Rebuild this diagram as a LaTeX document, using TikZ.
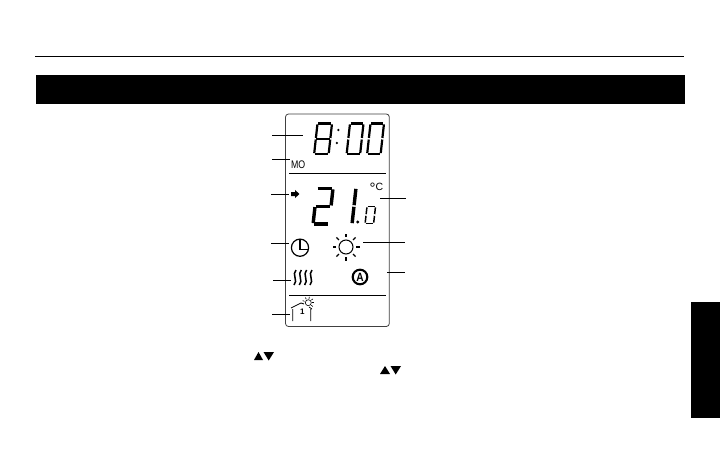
\documentclass[tikz,border=0pt]{standalone}
\usepackage{fontspec}
\usetikzlibrary{calc}
\setmainfont{Liberation Sans}
\tikzset{
  lead/.style={line width=0.9pt,black},
  panel/.style={draw=black!75,line width=0.8pt,rounded corners=3pt},
  rulel/.style={line width=1pt,black},
  seg/.style={line width=#1,black,line cap=butt},
  lab/.style={inner sep=0pt,black}
}
\newcommand{\digitseg}[6]{%
 \begin{scope}[shift={(#1,#2)},xslant=0.11]
  \foreach \s in {#6}{
   \ifnum\s=1 \draw[seg=#5] (0.6,0) -- (#3-0.6,0);\fi
   \ifnum\s=2 \draw[seg=#5] (#3,0.9) -- (#3,#4/2-0.8);\fi
   \ifnum\s=3 \draw[seg=#5] (#3,#4/2+0.8) -- (#3,#4-0.9);\fi
   \ifnum\s=4 \draw[seg=#5] (0.6,#4) -- (#3-0.6,#4);\fi
   \ifnum\s=5 \draw[seg=#5] (0,#4/2+0.8) -- (0,#4-0.9);\fi
   \ifnum\s=6 \draw[seg=#5] (0,0.9) -- (0,#4/2-0.8);\fi
   \ifnum\s=7 \draw[seg=#5] (0.6,#4/2) -- (#3-0.6,#4/2);\fi
  }
 \end{scope}}
\begin{document}
\begin{tikzpicture}[x=1pt,y=-1pt]
\useasboundingbox (0,0) rectangle (720,450);
\fill[white] (0,0) rectangle (720,450);
% header
\draw[rulel] (35,56.5) -- (684,56.5);
\fill[black] (36,75) rectangle (685,104);
\fill[black] (691,302) rectangle (720,418);
% panel
\draw[panel] (285.5,114) rectangle (389.3,326.5);
\draw[line width=0.9pt] (289,173.3) -- (386,173.3);
\draw[line width=0.9pt] (289,295.3) -- (386,295.3);
% clock digits
\digitseg{317.5}{123.5}{14.5}{30.5}{2.2pt}{1,2,3,4,5,6,7}
\fill (338.3,130) circle (1.3) (336.8,143) circle (1.3);
\digitseg{350}{123.5}{13.5}{30.5}{2.2pt}{1,2,3,4,5,6}
\digitseg{370.5}{123.5}{13.5}{30.5}{2.2pt}{1,2,3,4,5,6}
\node[lab,font=\fontsize{11}{11}\selectfont,xscale=0.8,anchor=west] (mo) at (291,165) {MO};
% arrow
\fill (291,192) -- (295,192) -- (295,189.8) -- (299.3,194) -- (295,198.2) -- (295,196) -- (291,196) -- cycle;
% temperature digits
\digitseg{317}{188.5}{16}{35.5}{3.4pt}{1,2,7,5,4}
\digitseg{340}{188}{16}{36}{3.4pt}{2,3}
\fill (357.7,222) circle (1.7);
\digitseg{367}{206.5}{8.5}{17}{1.5pt}{1,2,3,4,5,6}
\node[lab,anchor=base west] (c) at (369.3,190.5) {{\fontsize{15}{15}\selectfont\raisebox{-2.5pt}{°}}{\fontsize{10.5}{10.5}\selectfont C}};
% clock icon
\draw[line width=1.2pt] (300,247.7) circle (8.6);
\draw[line width=1.4pt] (300,239.5) -- (300,249.5) -- (308,249.5);
% sun
\draw[line width=1pt] (346,247) circle (7);
\foreach \a in {0,45,...,315}{\draw[line width=1.4pt] ($(346,247)+(\a:10)$) -- ($(346,247)+(\a:13.5)$);}
% heat
\foreach \x in {295,300.3,305.6,311}{
 \draw[line width=1.5pt] (\x-1,285) .. controls (\x+3.5,281) and (\x-3.5,274) .. (\x+1,270);}
% auto
\draw[line width=2.1pt] (360,277) circle (7.3);
\node[lab,font=\bfseries\fontsize{12}{12}\selectfont,xscale=0.85] (auto) at (360,277) {A};
% house
\draw[line width=0.8pt] (292.7,321) -- (292.7,309) (291,308) -- (301,303) -- (304,304);
\draw[line width=0.8pt] (310.7,321) -- (310.7,309) (309,307) -- (312,309);
\node[lab,font=\bfseries\fontsize{8}{8}\selectfont] (one) at (302.3,312) {1};
\draw[line width=0.6pt] (308.3,302.7) circle (3);
\foreach \a in {-160,-120,-80,-40,0,40}{\draw[line width=0.6pt] ($(308.3,302.7)+(\a:4)$) -- ($(308.3,302.7)+(\a:6)$);}
% leaders
\coordinate (l1a) at (272,135); \coordinate (l1b) at (303,135);
\coordinate (l2a) at (272,159); \coordinate (l2b) at (290,159);
\coordinate (l3a) at (271,194); \coordinate (l3b) at (289,194);
\coordinate (l4a) at (271,243); \coordinate (l4b) at (289,243);
\coordinate (l5a) at (273,280); \coordinate (l5b) at (291,280);
\coordinate (l6a) at (272,314); \coordinate (l6b) at (290,314);
\coordinate (r1a) at (380,198.5); \coordinate (r1b) at (406,198.5);
\coordinate (r2a) at (363,242); \coordinate (r2b) at (405,242);
\coordinate (r3a) at (387,272); \coordinate (r3b) at (405,272);
\foreach \p/\q in {l1a/l1b,l2a/l2b,l3a/l3b,l4a/l4b,l5a/l5b,l6a/l6b,r1a/r1b,r2a/r2b,r3a/r3b}{\draw[lead] (\p) -- (\q);}
% triangles
\fill (254,360) -- (258.5,352) -- (263,360) -- cycle;
\fill (263.5,352) -- (274,352) -- (268.7,360.5) -- cycle;
\fill (380,374) -- (385,366) -- (390,374) -- cycle;
\fill (390.5,366) -- (401,366) -- (395.7,374.5) -- cycle;
\end{tikzpicture}
\end{document}
